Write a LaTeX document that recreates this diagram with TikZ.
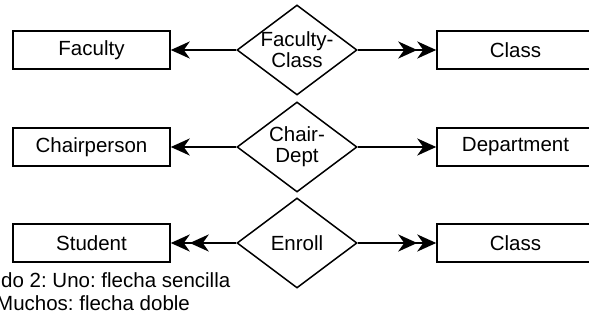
\documentclass[tikz,border=0pt]{standalone}
\usepackage{fontspec}
\setmainfont{Liberation Sans}
\usetikzlibrary{arrows.meta,shapes.geometric}
\frenchspacing
\begin{document}
\begin{tikzpicture}[x=1pt,y=-1pt,
  txt/.style={font=\fontsize{20.5}{21}\selectfont},
  ent/.style={draw, line width=1.5pt, minimum width=157pt, minimum height=38pt, inner sep=0pt, txt},
  rel/.style={draw, diamond, line width=1.5pt, minimum width=120pt, minimum height=90pt, inner sep=0pt},
  conn/.style={line width=2.6pt},
  one/.style={-{Stealth[length=19pt,width=17pt,inset=6pt]}},
  many/.style={-{Stealth[length=19pt,width=17pt,inset=6pt]Stealth[length=19pt,width=17pt,inset=6pt]}},
  lbl/.style={txt, align=center, inner sep=0pt}
]
\useasboundingbox (0,0) rectangle (589,320);
\clip (0,0) rectangle (589,320);

% row 1
\node[ent] (faculty) at (91.5,50) {Faculty};
\node[rel, label={[lbl]center:Faculty-\\Class}] (fc) at (297,50) {};
\node[ent] (class1) at (515.5,50) {Class};
\draw[conn,one] (fc.west) -- (faculty.east);
\draw[conn,many] (fc.east) -- (class1.west);

% row 2
\node[ent] (chair) at (91.5,147) {Chairperson};
\node[rel, label={[lbl]center:Chair-\\Dept}] (cd) at (297,147) {};
\node[ent] (dept) at (515.5,147) {Department};
\draw[conn,one] (cd.west) -- (chair.east);
\draw[conn,one] (cd.east) -- (dept.west);

% row 3
\node[ent] (student) at (91.5,243) {Student};
\node[rel, label={[lbl]center:Enroll}] (enr) at (297,243) {};
\node[ent] (class2) at (515.5,243) {Class};
\draw[conn,many] (enr.west) -- (student.east);
\draw[conn,many] (enr.east) -- (class2.west);

% legend
\node[txt, anchor=base west, inner sep=0pt] (leg1) at (1,288) {do 2: Uno: flecha sencilla};
\node[txt, anchor=base west, inner sep=0pt] (leg2) at (-4,311) {Muchos: flecha doble};
\end{tikzpicture}
\end{document}
